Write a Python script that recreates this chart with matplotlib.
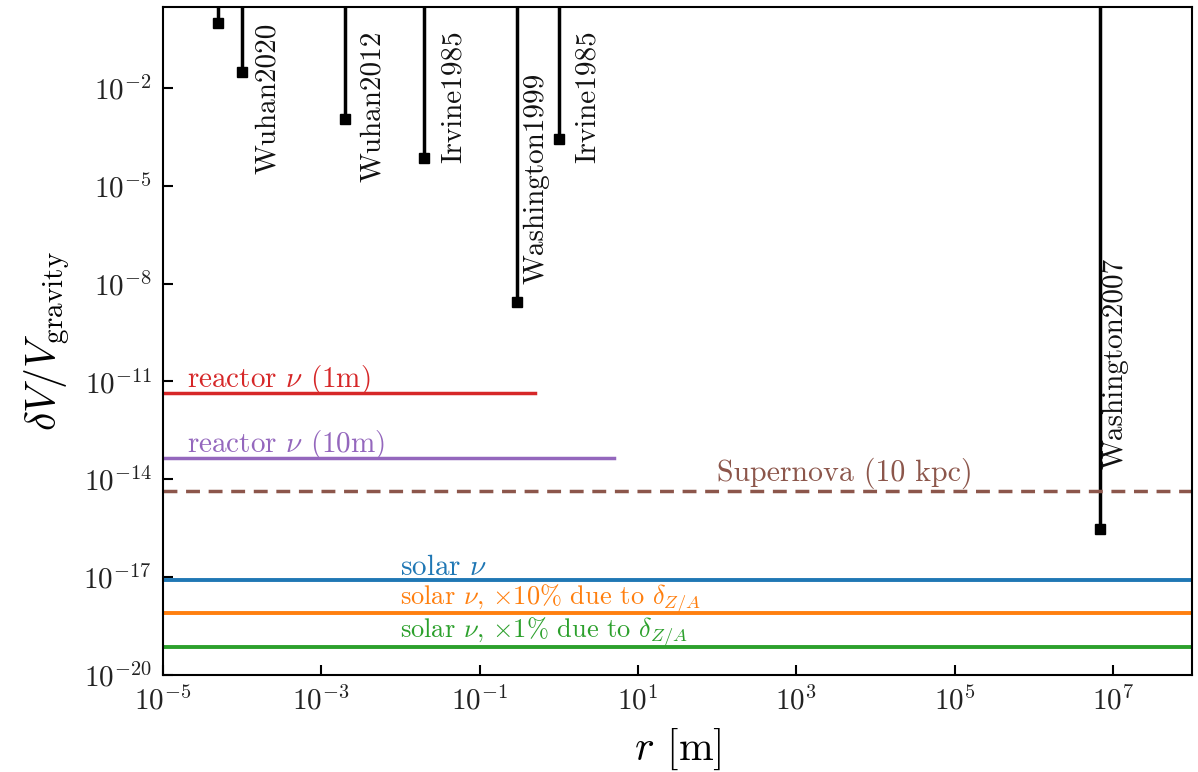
import numpy as np
import matplotlib
matplotlib.use("Agg")
import matplotlib.pyplot as plt

plt.rcParams['font.family'] = 'cmr10'
plt.rcParams['mathtext.fontset'] = 'cm'
plt.rcParams['axes.formatter.use_mathtext'] = True

# experimental bounds (r [m], dV/V)
exp_names = ["", "Wuhan2020", "Wuhan2012", "Irvine1985", "Washington1999",
             "Irvine1985", "Washington2007"]
exp_r = [5e-5, 1e-4, 2e-3, 2e-2, 0.3, 1.0, 6.8e6]
exp_dv = [1.0, 3e-2, 1.1e-3, 7e-5, 2.8e-9, 2.6e-4, 3e-16]

# where each rotated label sits (data coords, left/bottom of the text)
label_r = [None, 1.45e-4, 3.1e-3, 3.2e-2, 0.36, 1.6, 7.4e6]
label_dv = [None, 2.2e-5, 1.3e-5, 5.1e-5, 1e-8, 5.1e-5, 2e-14]

# neutrino sensitivities
reactor_1m = 4.5e-12
reactor_1m_rmax = 0.5
reactor_10m = 4.6e-14
reactor_10m_rmax = 5.0
supernova = 4.4e-15
solar = 8e-18
solar_10pct = 7.9e-19
solar_1pct = 7.4e-20

xlim = (1e-5, 1e8)
ylim = (1e-20, 3.0)

fig = plt.figure(figsize=(11.98, 7.72), dpi=100)
ax = fig.add_axes([0.136, 0.1256, 0.859, 0.8654])
ax.set_xscale('log')
ax.set_yscale('log')

# experiments: vertical line up to the top with a square marker
for r, dv in zip(exp_r, exp_dv):
    ax.plot([r, r], [dv, 100], color='black', lw=2.5, solid_capstyle='butt')
    ax.plot(r, dv, 's', color='black', ms=7.5)

for name, x, y in zip(exp_names, label_r, label_dv):
    if name:
        ax.text(x, y, name, rotation=90, ha='left', va='bottom',
                fontsize=21, color='#111111')

# horizontal lines
ax.plot([xlim[0], reactor_1m_rmax], [reactor_1m, reactor_1m], color='tab:red', lw=2.5)
ax.plot([xlim[0], reactor_10m_rmax], [reactor_10m, reactor_10m], color='tab:purple', lw=2.5)
ax.axhline(supernova, color='tab:brown', lw=2.5, ls=(0, (4, 2.5)))
ax.axhline(solar, color='tab:blue', lw=2.8)
ax.axhline(solar_10pct, color='tab:orange', lw=2.8)
ax.axhline(solar_1pct, color='tab:green', lw=2.8)

ax.text(2e-5, reactor_1m * 1.5, r'reactor $\nu$ (1m)', color='tab:red',
        fontsize=21, va='baseline')
ax.text(2e-5, reactor_10m * 1.5, r'reactor $\nu$ (10m)', color='tab:purple',
        fontsize=21, va='baseline')
ax.text(100, supernova * 2.0, 'Supernova (10 kpc)', color='tab:brown',
        fontsize=21.5, va='baseline')
ax.text(1e-2, solar * 1.5, r'solar $\nu$', color='tab:blue',
        fontsize=21, va='baseline')
ax.text(1e-2, solar_10pct * 1.9, r'solar $\nu$, $\times 10\%$ due to $\delta_{Z/A}$',
        color='tab:orange', fontsize=19, va='baseline')
ax.text(1e-2, solar_1pct * 1.9, r'solar $\nu$, $\times 1\%$ due to $\delta_{Z/A}$',
        color='tab:green', fontsize=19, va='baseline')

ax.set_xlim(*xlim)
ax.set_ylim(*ylim)
ax.set_xticks([1e-5, 1e-3, 1e-1, 1e1, 1e3, 1e5, 1e7])
ax.set_yticks([1e-20, 1e-17, 1e-14, 1e-11, 1e-8, 1e-5, 1e-2])
ax.minorticks_off()
ax.tick_params(direction='in', length=7, width=1.5, labelsize=21, pad=8,
               colors='black', labelcolor='#222222')
for s in ax.spines.values():
    s.set_linewidth(1.5)

ax.set_xlabel(r'$r$ [m]', fontsize=30, labelpad=8)
ax.set_ylabel(r'$\delta V/V_{\rm gravity}$', fontsize=30, labelpad=8)

fig.savefig('out.png', dpi=100)
